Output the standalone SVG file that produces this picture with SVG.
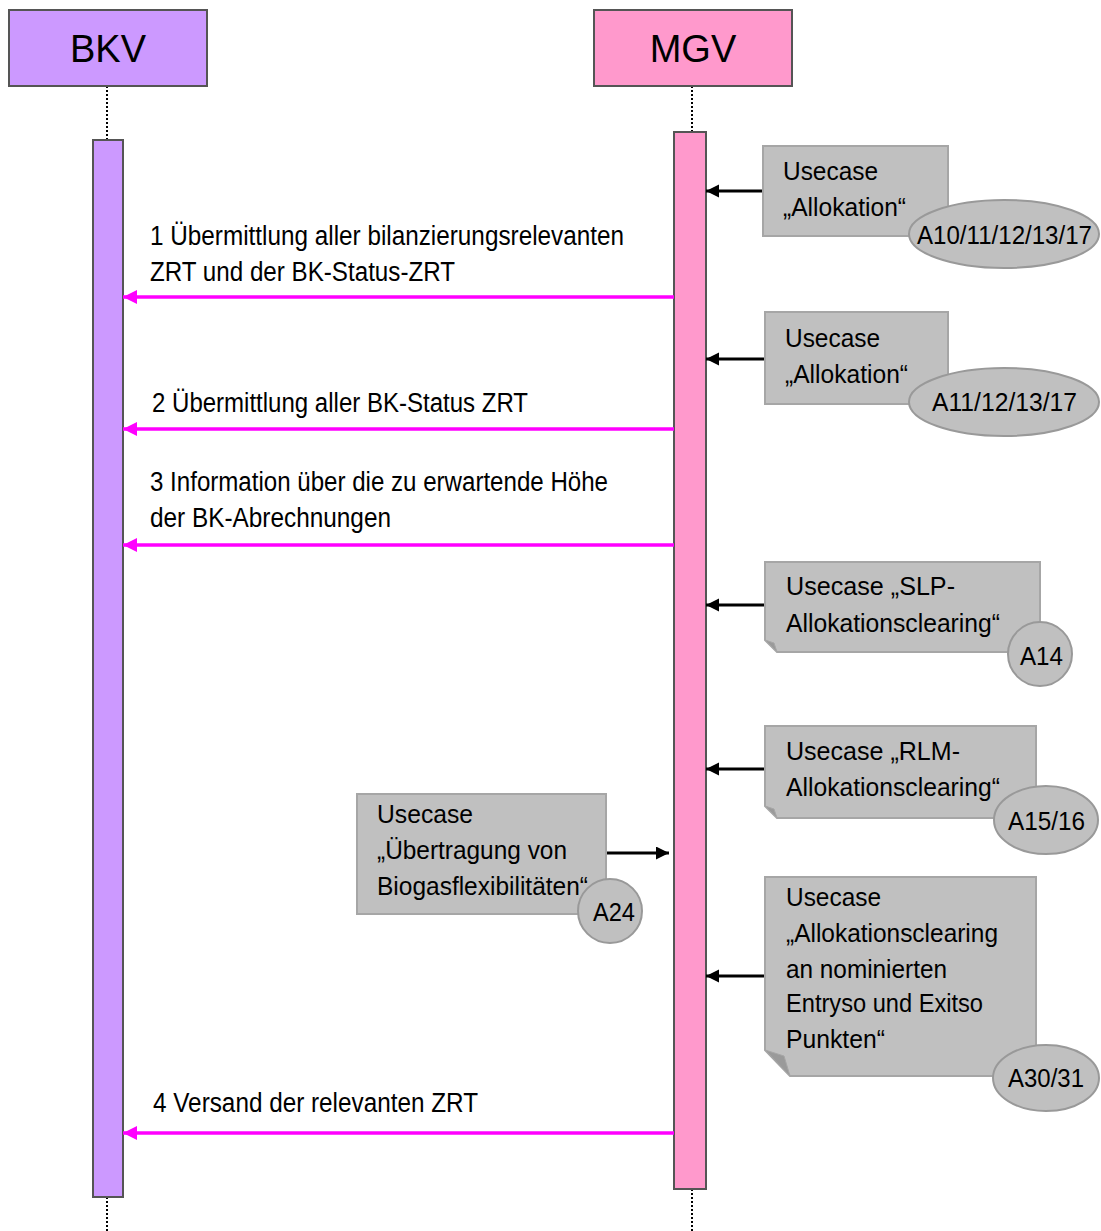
<svg xmlns="http://www.w3.org/2000/svg" width="1101" height="1231" viewBox="0 0 1101 1231">
<style>
text{font-family:"Liberation Sans Narrow","Liberation Sans",Arial,sans-serif;fill:#000}
.hdr{font-size:38px;text-anchor:middle;font-family:"Liberation Sans",Arial,sans-serif}
.msg{font-size:27px}
.nt{font-size:26px}
.dot{stroke:#000;stroke-width:2;stroke-dasharray:2 2;fill:none}
.bkv{fill:#CC99FF;stroke:#555;stroke-width:2}
.mgv{fill:#FF99CC;stroke:#555;stroke-width:2}
.note{fill:#C0C0C0;stroke:#A6A6A6;stroke-width:2}
.fold{fill:#9A9A9A;stroke:#A6A6A6;stroke-width:1}
.tag{fill:#C0C0C0;stroke:#999;stroke-width:2}
.m{stroke:#FF00FF;stroke-width:3.5;fill:none;marker-end:url(#am)}
.b{stroke:#000;stroke-width:3;fill:none;marker-end:url(#ab)}
</style>
<defs>
<marker id="am" markerUnits="userSpaceOnUse" markerWidth="16" markerHeight="16" refX="14" refY="7" orient="auto"><path d="M0,0 L14,7 L0,14 z" fill="#FF00FF"/></marker>
<marker id="ab" markerUnits="userSpaceOnUse" markerWidth="16" markerHeight="16" refX="13" refY="6.5" orient="auto"><path d="M0,0 L13,6.5 L0,13 z" fill="#000"/></marker>
</defs>
<rect width="1101" height="1231" fill="#fff"/>
<g id="BKV">
<line class="dot" x1="107" y1="86" x2="107" y2="140"/>
<line class="dot" x1="107" y1="1197" x2="107" y2="1231"/>
<rect class="bkv" x="9" y="10" width="198" height="76"/>
<text class="hdr" x="108" y="62">BKV</text>
<rect class="bkv" x="93" y="140" width="30" height="1057"/>
</g>
<g id="MGV">
<line class="dot" x1="692" y1="86" x2="692" y2="132"/>
<line class="dot" x1="692" y1="1189" x2="692" y2="1231"/>
<rect class="mgv" x="594" y="10" width="198" height="76"/>
<text class="hdr" x="693" y="62">MGV</text>
<rect class="mgv" x="674" y="132" width="32" height="1057"/>
</g>
<g id="connectors">
<line class="m" x1="674" y1="297" x2="123" y2="297"/>
<line class="m" x1="674" y1="429" x2="123" y2="429"/>
<line class="m" x1="674" y1="545" x2="123" y2="545"/>
<line class="m" x1="674" y1="1133" x2="123" y2="1133"/>
<line class="b" x1="763" y1="191" x2="706" y2="191"/>
<line class="b" x1="765" y1="359" x2="706" y2="359"/>
<line class="b" x1="765" y1="605" x2="706" y2="605"/>
<line class="b" x1="765" y1="769" x2="706" y2="769"/>
<line class="b" x1="606" y1="853" x2="669" y2="853"/>
<line class="b" x1="765" y1="976" x2="706" y2="976"/>
</g>
<g id="msg-labels">
<text class="msg" x="150" y="245" textLength="474" lengthAdjust="spacingAndGlyphs">1 Übermittlung aller bilanzierungsrelevanten</text>
<text class="msg" x="150" y="281" textLength="305" lengthAdjust="spacingAndGlyphs">ZRT und der BK-Status-ZRT</text>
<text class="msg" x="152" y="412" textLength="376" lengthAdjust="spacingAndGlyphs">2 Übermittlung aller BK-Status ZRT</text>
<text class="msg" x="150" y="491" textLength="458" lengthAdjust="spacingAndGlyphs">3 Information über die zu erwartende Höhe</text>
<text class="msg" x="150" y="527" textLength="241" lengthAdjust="spacingAndGlyphs">der BK-Abrechnungen</text>
<text class="msg" x="153" y="1112" textLength="325" lengthAdjust="spacingAndGlyphs">4 Versand der relevanten ZRT</text>
</g>
<g id="note-allokation-1">
<rect class="note" x="763" y="146" width="185" height="90"/>
<text class="nt" x="783" y="180" textLength="95" lengthAdjust="spacingAndGlyphs">Usecase</text>
<text class="nt" x="783" y="216" textLength="123" lengthAdjust="spacingAndGlyphs">„Allokation“</text>
<ellipse class="tag" cx="1004" cy="234" rx="95" ry="34"/>
<text class="nt" x="917" y="244" textLength="175" lengthAdjust="spacingAndGlyphs">A10/11/12/13/17</text>
</g>
<g id="note-allokation-2">
<rect class="note" x="765" y="312" width="183" height="92"/>
<text class="nt" x="785" y="347" textLength="95" lengthAdjust="spacingAndGlyphs">Usecase</text>
<text class="nt" x="785" y="383" textLength="123" lengthAdjust="spacingAndGlyphs">„Allokation“</text>
<ellipse class="tag" cx="1004" cy="402" rx="95" ry="34"/>
<text class="nt" x="932" y="411" textLength="145" lengthAdjust="spacingAndGlyphs">A11/12/13/17</text>
</g>
<g id="note-slp">
<path class="note" d="M765,562 H1040 V652 H777 L765,640 Z"/>
<path class="fold" d="M765,640 L777,652 L774,643 Z"/>
<text class="nt" x="786" y="595" textLength="169" lengthAdjust="spacingAndGlyphs">Usecase „SLP-</text>
<text class="nt" x="786" y="632" textLength="214" lengthAdjust="spacingAndGlyphs">Allokationsclearing“</text>
<circle class="tag" cx="1040" cy="654" r="32"/>
<text class="nt" x="1020" y="665" textLength="43" lengthAdjust="spacingAndGlyphs">A14</text>
</g>
<g id="note-rlm">
<path class="note" d="M765,726 H1036 V818 H777 L765,806 Z"/>
<path class="fold" d="M765,806 L777,818 L774,809 Z"/>
<text class="nt" x="786" y="760" textLength="174" lengthAdjust="spacingAndGlyphs">Usecase „RLM-</text>
<text class="nt" x="786" y="796" textLength="214" lengthAdjust="spacingAndGlyphs">Allokationsclearing“</text>
<ellipse class="tag" cx="1046" cy="820" rx="52" ry="34"/>
<text class="nt" x="1008" y="830" textLength="77" lengthAdjust="spacingAndGlyphs">A15/16</text>
</g>
<g id="note-biogas">
<rect class="note" x="357" y="794" width="249" height="120"/>
<text class="nt" x="377" y="823" textLength="96" lengthAdjust="spacingAndGlyphs">Usecase</text>
<text class="nt" x="377" y="859" textLength="190" lengthAdjust="spacingAndGlyphs">„Übertragung von</text>
<text class="nt" x="377" y="895" textLength="211" lengthAdjust="spacingAndGlyphs">Biogasflexibilitäten“</text>
<circle class="tag" cx="610" cy="911" r="32"/>
<text class="nt" x="593" y="921" textLength="42" lengthAdjust="spacingAndGlyphs">A24</text>
</g>
<g id="note-entryso">
<path class="note" d="M765,877 H1036 V1076 H790 L765,1050 Z"/>
<path class="fold" d="M765,1050 L790,1076 L784,1056 Z"/>
<text class="nt" x="786" y="906" textLength="95" lengthAdjust="spacingAndGlyphs">Usecase</text>
<text class="nt" x="786" y="942" textLength="212" lengthAdjust="spacingAndGlyphs">„Allokationsclearing</text>
<text class="nt" x="786" y="978" textLength="161" lengthAdjust="spacingAndGlyphs">an nominierten</text>
<text class="nt" x="786" y="1012" textLength="197" lengthAdjust="spacingAndGlyphs">Entryso und Exitso</text>
<text class="nt" x="786" y="1048" textLength="99" lengthAdjust="spacingAndGlyphs">Punkten“</text>
<ellipse class="tag" cx="1046" cy="1078" rx="53" ry="33"/>
<text class="nt" x="1008" y="1087" textLength="76" lengthAdjust="spacingAndGlyphs">A30/31</text>
</g>
</svg>
